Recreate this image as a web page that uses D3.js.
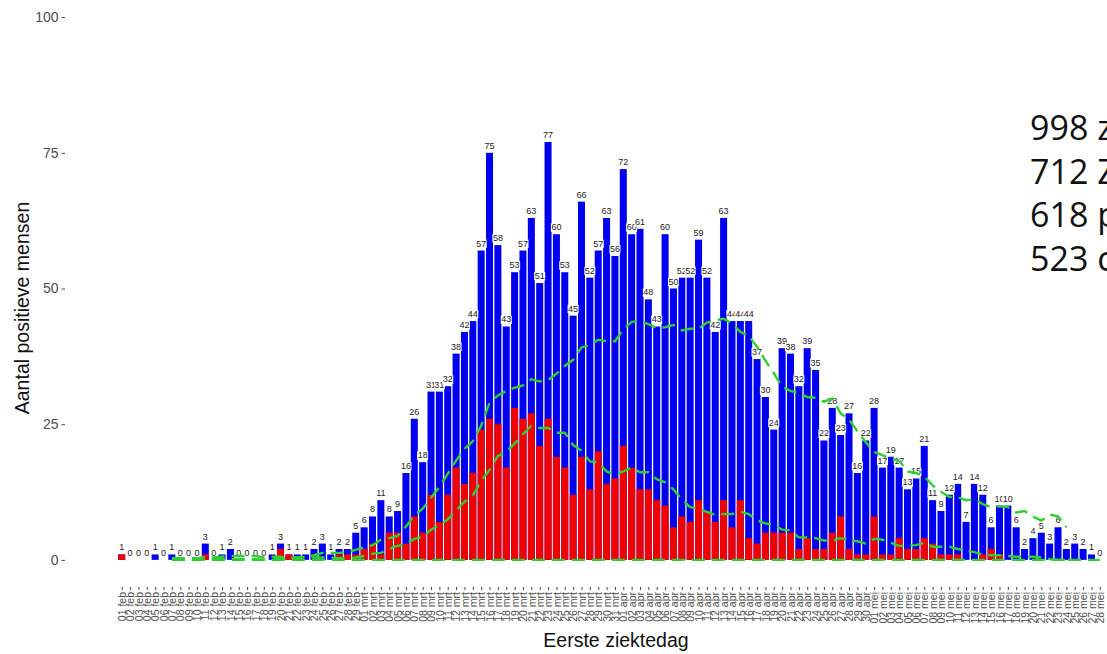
<!DOCTYPE html>
<html><head><meta charset="utf-8">
<script src="https://cdn.jsdelivr.net/npm/d3@7"></script>
<style>
html,body{margin:0;padding:0;background:#fff;overflow:hidden;width:1107px;height:654px;}
svg{display:block;font-family:"Liberation Sans",Arial,sans-serif;}
</style>
</head><body>
<svg id="chart" width="1107" height="654"></svg>
<script>
// ---- data ----
const dates = [
 "01 feb","02 feb","03 feb","04 feb","05 feb","06 feb","07 feb","08 feb","09 feb","10 feb",
 "11 feb","12 feb","13 feb","14 feb","15 feb","16 feb","17 feb","18 feb","19 feb","20 feb",
 "21 feb","22 feb","23 feb","24 feb","25 feb","26 feb","27 feb","28 feb","29 feb",
 "01 mrt","02 mrt","03 mrt","04 mrt","05 mrt","06 mrt","07 mrt","08 mrt","09 mrt","10 mrt",
 "11 mrt","12 mrt","13 mrt","14 mrt","15 mrt","16 mrt","17 mrt","18 mrt","19 mrt","20 mrt",
 "21 mrt","22 mrt","23 mrt","24 mrt","25 mrt","26 mrt","27 mrt","28 mrt","29 mrt","30 mrt","31 mrt",
 "01 apr","02 apr","03 apr","04 apr","05 apr","06 apr","07 apr","08 apr","09 apr","10 apr",
 "11 apr","12 apr","13 apr","14 apr","15 apr","16 apr","17 apr","18 apr","19 apr","20 apr",
 "21 apr","22 apr","23 apr","24 apr","25 apr","26 apr","27 apr","28 apr","29 apr","30 apr",
 "01 mei","02 mei","03 mei","04 mei","05 mei","06 mei","07 mei","08 mei","09 mei","10 mei",
 "11 mei","12 mei","13 mei","14 mei","15 mei","16 mei","17 mei","18 mei","19 mei","20 mei",
 "21 mei","22 mei","23 mei","24 mei","25 mei","26 mei","27 mei","28 mei"
];
// total positives per day (blue bars, labelled)
const totals = [
 1,0,0,0,1,0,1,0,0,0,
 3,0,1,2,0,0,0,0,1,3,
 1,1,1,2,3,1,2,2,5,6,
 8,11,8,9,16,26,18,31,31,32,
 38,42,44,57,75,58,43,53,57,63,
 51,77,60,53,45,66,52,57,63,56,
 72,60,61,48,43,60,50,52,52,59,
 52,42,63,44,44,44,37,30,24,39,
 38,32,39,35,22,28,23,27,16,22,
 28,17,19,17,13,15,21,11,9,12,
 14,7,14,12,6,10,10,6,2,4,
 5,3,6,2,3,2,1,0
];
// red subgroup per day
const redGroup = [
 1,0,0,0,0,0,0,0,0,0,
 1,0,0,0,0,0,0,0,0,2,
 1,0,0,0,0,0,1,1,1,2,
 3,1,5,5,3,8,5,12,7,12,
 17,14,16,24,26,25,17,28,26,27,
 21,26,19,17,12,19,13,20,14,15,
 21,17,13,13,11,10,6,8,7,11,
 9,7,11,6,11,4,3,5,5,5,
 5,2,4,2,2,5,8,2,1,1,
 8,1,1,4,2,2,4,3,1,1,
 1,0,0,1,2,1,0,0,0,0,
 0,0,0,0,0,0,0,0
];
// third subgroup (always zero in the reference)
const thirdGroup = [
 0,0,0,0,0,0,0,0,0,0, 0,0,0,0,0,0,0,0,0,0,
 0,0,0,0,0,0,0,0,0,0, 0,0,0,0,0,0,0,0,0,0,
 0,0,0,0,0,0,0,0,0,0, 0,0,0,0,0,0,0,0,0,0,
 0,0,0,0,0,0,0,0,0,0, 0,0,0,0,0,0,0,0,0,0,
 0,0,0,0,0,0,0,0,0,0, 0,0,0,0,0,0,0,0,0,0,
 0,0,0,0,0,0,0,0
];
const yTicks = [0, 25, 50, 75, 100];
const sideTexts = ["998 z", "712 Z", "618 p", "523 c"];
const yTitle = "Aantal positieve mensen";
const xTitle = "Eerste ziektedag";
const windowDays = 7;

// ---- layout ----
const svg = d3.select("#chart");
const panelBottom = 587;
const x = d3.scaleLinear().domain([0, 117]).range([121.7, 1099.8]);
const step = x(1) - x(0);
const bw = step * 0.84;
const y = d3.scaleLinear().domain([-5, 105]).range([panelBottom, -10]);

const idx = d3.range(dates.length);

// bars
svg.append("g").selectAll("rect").data(idx.filter(i => totals[i] > 0)).join("rect")
  .attr("x", i => x(i) - bw / 2).attr("width", bw)
  .attr("y", i => y(totals[i])).attr("height", i => y(0) - y(totals[i]))
  .attr("fill", "#0000f0");
svg.append("g").selectAll("rect").data(idx.filter(i => redGroup[i] > 0)).join("rect")
  .attr("x", i => x(i) - bw / 2).attr("width", bw)
  .attr("y", i => y(redGroup[i])).attr("height", i => y(0) - y(redGroup[i]))
  .attr("fill", "#f00000");

// labels with white boxes
const lg = svg.append("g");
idx.forEach(i => {
  const g = lg.append("g");
  const t = g.append("text").attr("x", x(i)).attr("y", y(totals[i]) - 4)
    .attr("text-anchor", "middle").attr("font-size", 9).attr("fill", "#222")
    .text(totals[i]);
  const bb = t.node().getBBox();
  g.insert("rect", "text").attr("x", bb.x - 0.5).attr("y", bb.y + 1)
    .attr("width", bb.width + 1).attr("height", bb.height - 1.5).attr("fill", "#fff");
});

// trailing 7-day means of the subgroups
function trailing(arr) {
  return idx.filter(i => i >= windowDays - 1)
    .map(i => [i, d3.mean(arr.slice(i - windowDays + 1, i + 1))]);
}
const others = idx.map(i => totals[i] - redGroup[i] - thirdGroup[i]);
const line = d3.line().x(d => x(d[0])).y(d => y(d[1]));
[thirdGroup, redGroup, others].forEach(arr => {
  svg.append("path").attr("d", line(trailing(arr)))
    .attr("fill", "none").attr("stroke", "#2fd02f").attr("stroke-width", 2.4)
    .attr("stroke-dasharray", "13,7");
});

// axes
const ya = svg.append("g").attr("transform", "translate(65,0)")
  .call(d3.axisLeft(y).tickValues(yTicks).tickSize(3.5).tickPadding(3));
ya.select(".domain").remove();
ya.selectAll("line").attr("stroke", "#444");
ya.selectAll("text").attr("font-size", 14).attr("fill", "#4d4d4d")
  .attr("font-family", "Liberation Sans, Arial, sans-serif");

const xa = svg.append("g").attr("transform", `translate(0,${panelBottom})`)
  .call(d3.axisBottom(x).tickValues(idx).tickFormat(i => dates[i]).tickSize(3));
xa.select(".domain").remove();
xa.selectAll("line").attr("stroke", "#444");
xa.selectAll("text").attr("transform", "rotate(-90)")
  .attr("x", -5).attr("y", 0).attr("dy", "0.35em")
  .style("text-anchor", "end").attr("font-size", 10.5).attr("fill", "#4d4d4d")
  .attr("font-family", "Liberation Sans, Arial, sans-serif");

// titles
svg.append("text").attr("transform", "translate(29,308) rotate(-90)")
  .attr("text-anchor", "middle").attr("font-size", 19.5).attr("fill", "#111").text(yTitle);
svg.append("text").attr("x", 616).attr("y", 647)
  .attr("text-anchor", "middle").attr("font-size", 19.5).attr("fill", "#111").text(xTitle);

// side annotation (cropped on the right, as in the reference)
svg.append("g").selectAll("text").data(sideTexts).join("text")
  .attr("x", 1030).attr("y", (d, k) => 140 + k * 43.5)
  .attr("font-family", "Open Sans, sans-serif").attr("font-size", 34).attr("fill", "#111")
  .text(d => d);
</script>
</body></html>
